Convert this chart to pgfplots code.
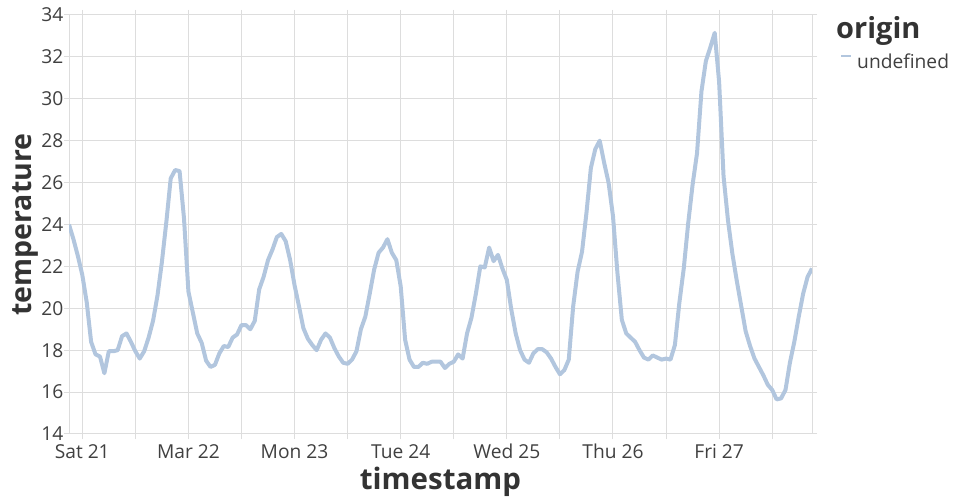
\documentclass[border=0pt]{standalone}
\usepackage{pgfplots}
\pgfplotsset{compat=1.18}
\usepackage{fontspec}
\setmainfont{Open Sans}
\definecolor{gridc}{RGB}{221,221,221}
\definecolor{linec}{RGB}{178,198,222}
\definecolor{txt}{RGB}{64,64,64}
\definecolor{ttl}{RGB}{51,51,51}
\begin{document}
\begin{tikzpicture}
\useasboundingbox (-69pt,-66pt) rectangle (891pt,434pt);
\begin{axis}[
  at={(0pt,0pt)}, anchor=south west,
  scale only axis, width=743pt, height=419pt,
  xmin=-3, xmax=165, ymin=14, ymax=34,
  xtick={0,24,...,144},
  xticklabels={Sat 21,Mar 22,Mon 23,Tue 24,Wed 25,Thu 26,Fri 27},
  minor xtick={12,36,...,156},
  ytick={14,16,...,34},
  grid=both,
  major grid style={draw=gridc, line width=1pt},
  minor grid style={draw=gridc, line width=1pt},
  axis line style={draw=gridc, line width=1pt},
  tick align=outside,
  major tick length=5pt, minor tick length=5pt,
  every tick/.style={draw=gridc, line width=1pt},
  every minor tick/.style={draw=gridc, line width=1pt},
  /pgf/number format/assume math mode=true,
  ticklabel style={font=\fontsize{19.2}{21}\selectfont, text=txt},
  yticklabel style={anchor=east, inner sep=0pt, xshift=-0.5pt},
  xticklabel style={anchor=base, inner sep=0pt, yshift=-19pt},
  xlabel={timestamp}, ylabel={temperature},
  xlabel style={at={(axis description cs:0.5,-0.1313)}, anchor=base, font=\fontsize{29.5}{31}\selectfont\bfseries, text=ttl},
  ylabel style={at={(axis description cs:-0.0502,0.5)}, anchor=base, rotate=0, font=\fontsize{28.5}{30}\selectfont\bfseries, text=ttl},
  legend style={draw=none, fill=none, at={(771pt,372pt)}, anchor=base west, inner sep=0pt, font=\fontsize{19.2}{21}\selectfont, text=txt, legend cell align=left},
  legend image code/.code={\path[draw=none] (0pt,6pt) -- (14pt,6pt); \draw[line width=2pt, linec] (0pt,6pt) -- (10pt,6pt);},
]
\addplot[linec, line width=4pt, line join=round] coordinates {
(-3,24.0) (-2,23.3) (-1,22.5) (0,21.6) (1,20.3) (2,18.4) (3,17.8) (4,17.7) (5,16.9) (6,17.95)
(7,17.95) (8,18.0) (9,18.67) (10,18.8) (11,18.4) (12,17.95) (13,17.6) (14,17.95) (15,18.6) (16,19.4)
(17,20.6) (18,22.2) (19,24.1) (20,26.2) (21,26.6) (22,26.55) (23,24.3) (24,20.8) (25,19.8) (26,18.8)
(27,18.35) (28,17.5) (29,17.2) (30,17.3) (31,17.85) (32,18.2) (33,18.15) (34,18.6) (35,18.75) (36,19.2)
(37,19.2) (38,19.0) (39,19.4) (40,20.9) (41,21.5) (42,22.3) (43,22.8) (44,23.4) (45,23.55) (46,23.2)
(47,22.3) (48,21.1) (49,20.1) (50,19.05) (51,18.55) (52,18.25) (53,18.0) (54,18.5) (55,18.8) (56,18.6)
(57,18.1) (58,17.7) (59,17.4) (60,17.35) (61,17.55) (62,17.95) (63,19.0) (64,19.6) (65,20.7) (66,21.85)
(67,22.65) (68,22.9) (69,23.3) (70,22.65) (71,22.3) (72,21.05) (73,18.5) (74,17.55) (75,17.2) (76,17.2)
(77,17.4) (78,17.35) (79,17.45) (80,17.45) (81,17.45) (82,17.15) (83,17.35) (84,17.45) (85,17.8) (86,17.6)
(87,18.8) (88,19.55) (89,20.7) (90,22.0) (91,21.95) (92,22.9) (93,22.25) (94,22.55) (95,21.9) (96,21.35)
(97,19.95) (98,18.8) (99,18.0) (100,17.55) (101,17.4) (102,17.85) (103,18.05) (104,18.05) (105,17.9) (106,17.6)
(107,17.2) (108,16.85) (109,17.05) (110,17.55) (111,20.1) (112,21.75) (113,22.7) (114,24.55) (115,26.7) (116,27.6)
(117,28.0) (118,26.95) (119,26.0) (120,24.4) (121,21.7) (122,19.45) (123,18.8) (124,18.6) (125,18.4) (126,18.0)
(127,17.65) (128,17.55) (129,17.75) (130,17.65) (131,17.55) (132,17.6) (133,17.55) (134,18.25) (135,20.25) (136,21.9)
(137,24.05) (138,25.9) (139,27.4) (140,30.35) (141,31.8) (142,32.45) (143,33.15) (144,30.8) (145,26.3) (146,24.2)
(147,22.6) (148,21.3) (149,20.1) (150,18.9) (151,18.2) (152,17.6) (153,17.2) (154,16.8) (155,16.35) (156,16.1)
(157,15.65) (158,15.7) (159,16.1) (160,17.4) (161,18.4) (162,19.6) (163,20.7) (164,21.5) (165,21.9)
};
\addlegendentry{undefined}
\end{axis}
\node[anchor=base west, inner sep=0pt, font=\fontsize{29}{31}\selectfont\bfseries, text=ttl] at (767pt,395pt) {origin};
\end{tikzpicture}
\end{document}
